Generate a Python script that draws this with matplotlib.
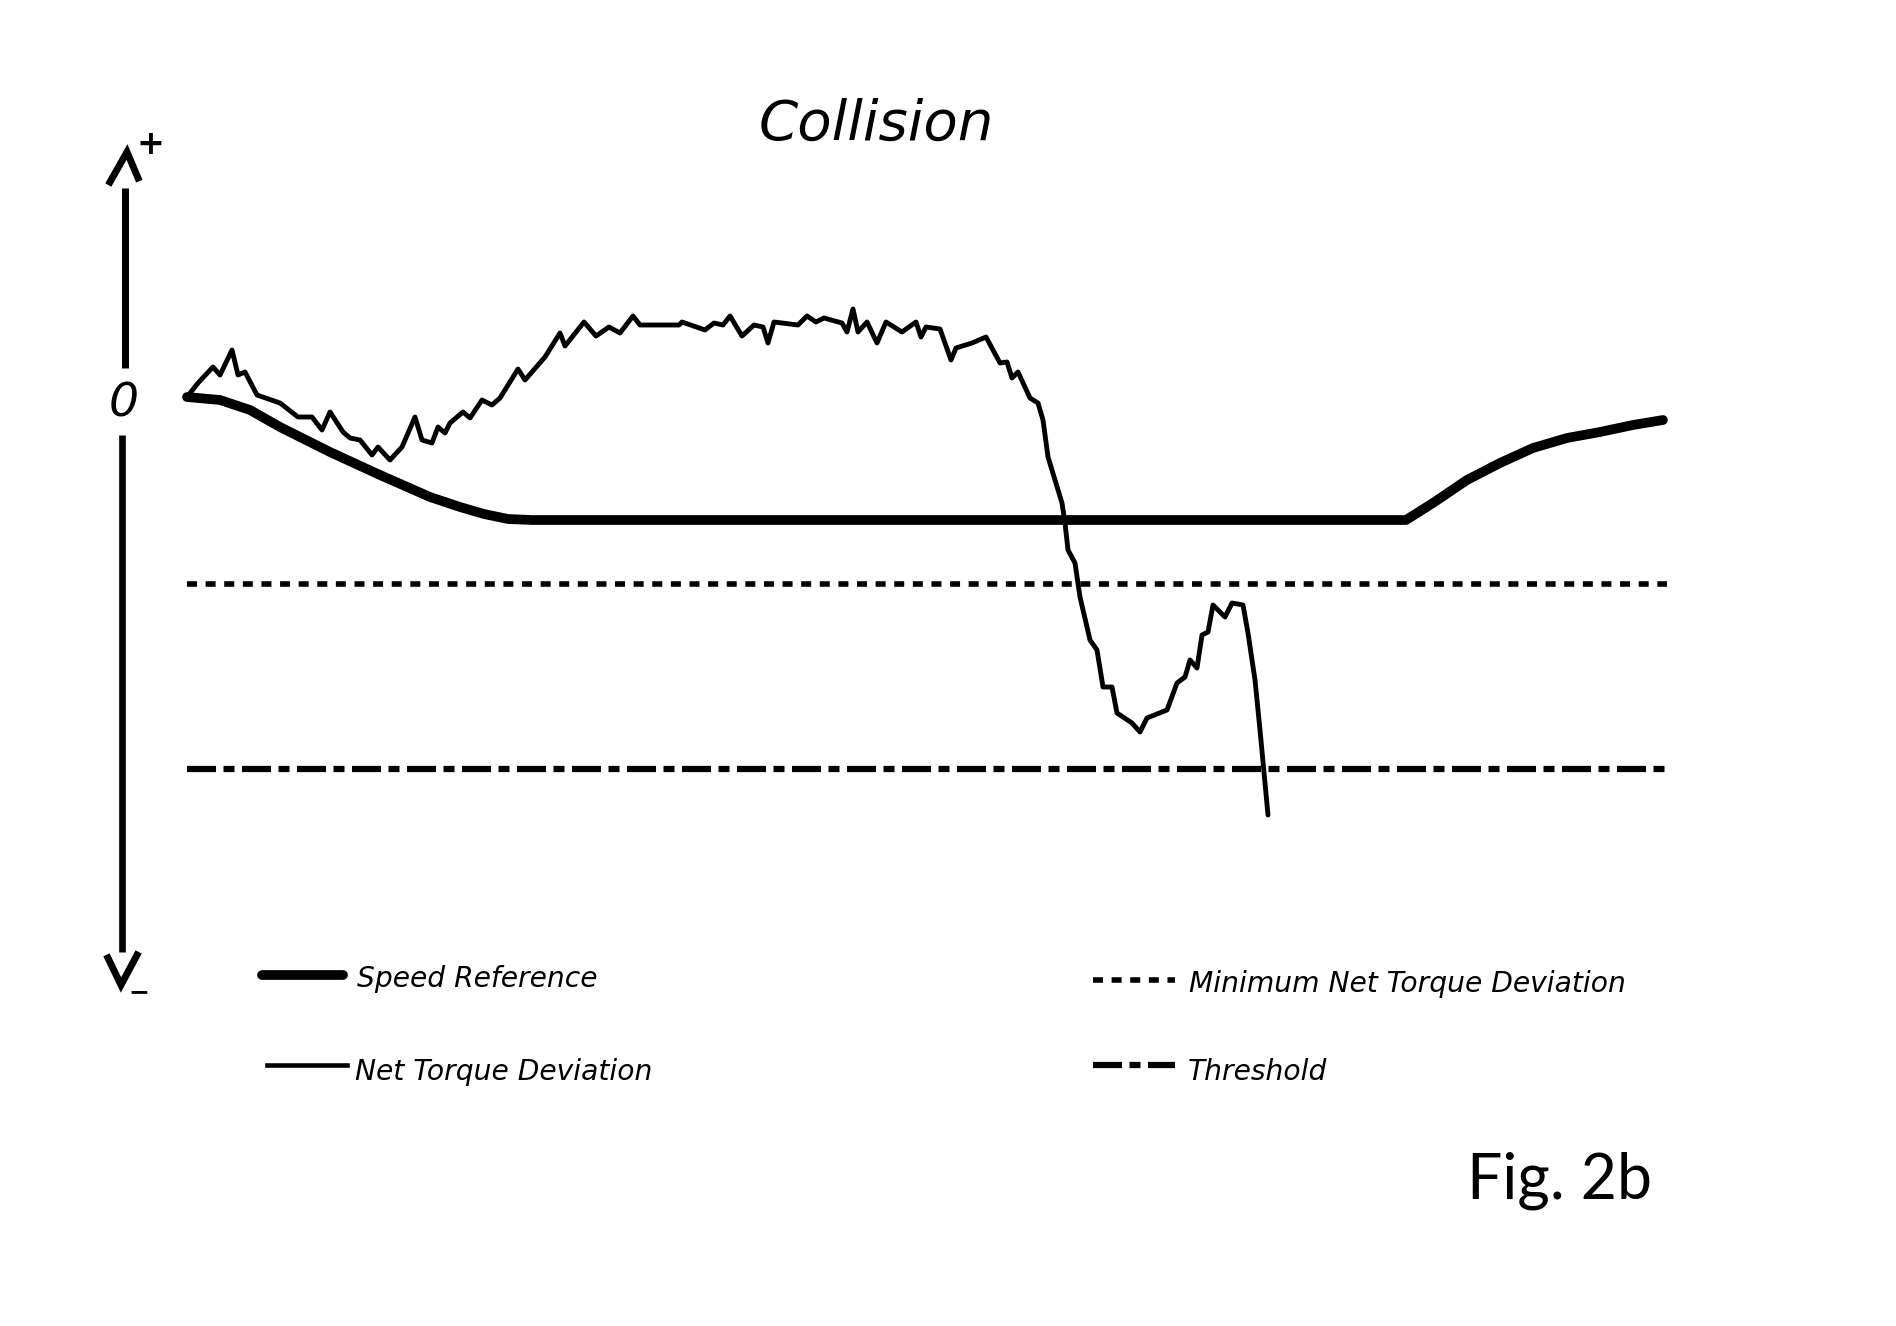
"""
Fig. 2b - collision case: net torque deviation vs. speed reference.
"""

import matplotlib
matplotlib.use("Agg")
import matplotlib.pyplot as plt
from matplotlib import font_manager

# time axis in ms, values in arbitrary torque units (0 = zero level)
time_span = [0, 1480]

speed_t = [0, 33, 63, 93, 143, 193, 243, 273, 297, 321, 345,
           1219, 1246, 1280, 1313, 1346, 1380, 1413, 1446, 1476]
speed_v = [-2, -5, -15, -32, -57, -80, -102, -112, -119, -124, -125,
           -125, -108, -85, -68, -53, -43, -37, -30, -25]

net_t = [0, 11, 26, 33, 45, 51, 58, 70, 93, 111,
         125, 135, 143, 156, 163, 173, 185, 191, 203, 215,
         228, 235, 245, 251, 258, 263, 276, 283, 295, 305,
         313, 331, 338, 358, 373, 378, 397, 409, 422, 433,
         446, 453, 492, 495, 518, 527, 536, 543, 555, 567,
         576, 581, 587, 611, 620, 629, 637, 655, 660, 666,
         671, 680, 690, 699, 715, 729, 734, 739, 753, 764,
         769, 785, 799, 813, 820, 825, 831, 843, 851, 856,
         861, 875, 878, 881, 888, 893, 903, 910, 916, 925,
         930, 945, 953, 960, 980, 990, 998, 1003, 1010, 1015,
         1021, 1026, 1038, 1045, 1056, 1061, 1068, 1073, 1078, 1081]
net_v = [-2, 12, 28, 20, 45, 20, 23, 0, -8, -22,
         -22, -35, -17, -37, -43, -45, -60, -52, -65, -52,
         -22, -45, -48, -32, -38, -28, -17, -23, -5, -10,
         -3, 26, 15, 38, 62, 49, 73, 59, 68, 62,
         79, 70, 70, 73, 65, 72, 70, 79, 59, 70,
         68, 52, 73, 70, 79, 73, 77, 72, 63, 86,
         63, 73, 52, 73, 63, 73, 58, 68, 66, 35,
         47, 52, 58, 32, 33, 17, 23, -3, -8, -25,
         -62, -108, -128, -155, -168, -202, -245, -255, -292, -292,
         -318, -328, -337, -323, -315, -288, -282, -265, -273, -240,
         -237, -210, -222, -208, -210, -238, -285, -335, -388, -420]

min_net_dev = -189
threshold = -374

labels = ["Speed Reference", "Net Torque Deviation",
          "Minimum Net Torque Deviation", "Threshold"]

# fonts: narrow italic stands in for the handwriting
installed = {f.name for f in font_manager.fontManager.ttflist}
hand = "Liberation Sans Narrow" if "Liberation Sans Narrow" in installed else "DejaVu Sans"
hand_scale = 1.0 if hand == "Liberation Sans Narrow" else 0.78
fig_font = "Lato" if "Lato" in installed else "DejaVu Sans"

fig = plt.figure(figsize=(18.96, 13.26), dpi=100)
ax = fig.add_axes([0, 0, 1, 1])
ax.set_xlim(-187, 1709)
ax.set_ylim(-931, 395)
ax.axis("off")

k = "black"
dotted = (0, (1.8, 1.55))
dashdot = (0, (4.64, 1.2, 1.76, 1.2))

# main curves
ax.plot(speed_t, speed_v, color=k, lw=7, solid_capstyle="round", solid_joinstyle="round")
ax.plot(net_t, net_v, color=k, lw=3.5, solid_capstyle="round", solid_joinstyle="round")
ax.plot(time_span, [min_net_dev] * 2, color=k, lw=4, linestyle=dotted)
ax.plot(time_span, [threshold] * 2, color=k, lw=4.5, linestyle=dashdot)

# hand-drawn vertical axis with chevrons
ax.plot([-62, -62], [207, 27], color=k, lw=5, solid_capstyle="butt")
ax.plot([-77, -60, -49], [213, 243, 217], color=k, lw=5, solid_joinstyle="miter")
ax.plot([-65, -65], [-40, -557], color=k, lw=4.8, solid_capstyle="butt")
ax.plot([-79, -66, -50], [-563, -590, -560], color=k, lw=5, solid_joinstyle="miter")
ax.text(-63, -22, "0", family=hand, style="italic", fontsize=34,
        ha="center", va="baseline")
ax.text(-37, 250, "+", fontsize=24, fontweight="bold", ha="center", va="center")
ax.text(-48, -597, "\u2212", fontsize=18, fontweight="bold", ha="center", va="center")

# title and figure tag
ax.text(689, 255, "Collision", family=hand, style="italic", fontsize=54 * 0.75,
        ha="center", va="baseline")
ax.text(1280, -803, "Fig. 2b", family=fig_font, fontsize=45, ha="left", va="baseline")

# legend, drawn by hand to match the layout
leg_fs = 26 * hand_scale
ax.plot([75, 156], [-580, -580], color=k, lw=7, solid_capstyle="round")
ax.text(170, -592, labels[0], family=hand, style="italic", fontsize=leg_fs, va="baseline")
ax.plot([80, 160], [-670, -670], color=k, lw=3.3)
ax.text(168, -685, labels[1], family=hand, style="italic", fontsize=leg_fs, va="baseline")
ax.plot([906, 988], [-585, -585], color=k, lw=4, linestyle=dotted)
ax.text(1002, -597, labels[2], family=hand, style="italic", fontsize=leg_fs, va="baseline")
ax.plot([906, 988], [-670, -670], color=k, lw=4.5, linestyle=dashdot)
ax.text(1001, -685, labels[3], family=hand, style="italic", fontsize=leg_fs, va="baseline")

fig.savefig("out.png", dpi=100, facecolor="white")
